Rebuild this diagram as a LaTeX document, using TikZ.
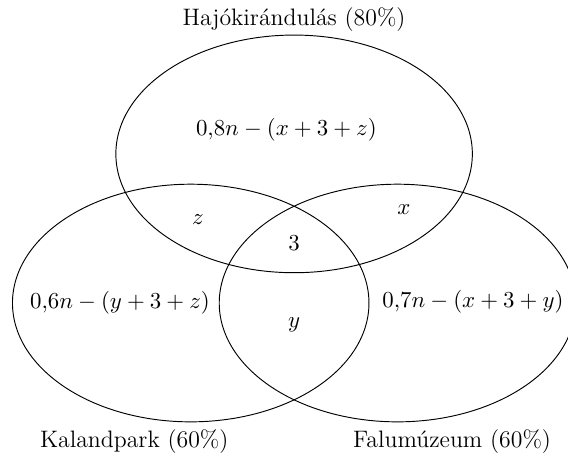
\documentclass[tikz,border=0pt]{standalone}
\usepackage{amsmath}
\usetikzlibrary{positioning}
\tikzset{
  setline/.style={draw=black,line width=0.45pt},
  lbl/.style={font=\fontsize{11.4}{13}\selectfont,inner sep=1pt},
}

\begin{document}
\begin{tikzpicture}
  \useasboundingbox (-4.95,-5.05) rectangle (4.61,2.59);
  % ---------- the three sets ----------
  \coordinate (hajo) at (0,0);
  \coordinate (kaland) at (-1.74,-2.51);
  \coordinate (falu) at (1.74,-2.51);
  \draw[setline] (hajo) ellipse (3cm and 2cm);
  \draw[setline] (kaland) ellipse (3cm and 2cm);
  \draw[setline] (falu) ellipse (3cm and 2cm);
  % ---------- set names ----------
  \node[lbl] (nhajo) at (0,2.26) {Hajókirándulás (80\%)};
  \node[lbl] (nkaland) at (-2.69,-4.85) {Kalandpark (60\%)};
  \node[lbl] (nfalu) at (2.66,-4.85) {Falumúzeum (60\%)};
  % ---------- regions ----------
  \node[lbl] (ronlyh) at (-0.13,0.40) {$0{,}8n-(x+3+z)$};
  \node[lbl] (ronlyk) at (-2.93,-2.51) {$0{,}6n-(y+3+z)$};
  \node[lbl] (ronlyf) at (3.01,-2.49) {$0{,}7n-(x+3+y)$};
  \node[lbl] (rz) at (-1.62,-1.11) {$z$};
  \node[lbl] (rx) at (1.85,-0.94) {$x$};
  \node[lbl] (rall) at (0,-1.50) {$3$};
  \node[lbl] (ry) at (0,-2.88) {$y$};
\end{tikzpicture}
\end{document}
